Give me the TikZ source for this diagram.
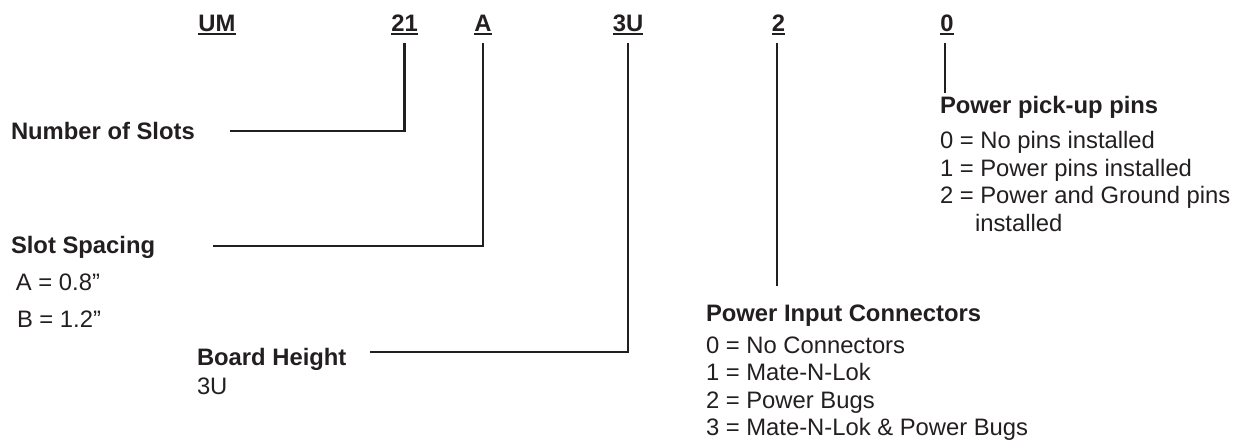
\documentclass[tikz,border=0pt]{standalone}
\usepackage{fontspec}
\setmainfont{Liberation Sans}
\definecolor{ink}{HTML}{231F20}
\begin{document}
\begin{tikzpicture}[x=1pt,y=-1pt,
  every node/.style={inner sep=0pt,outer sep=0pt,text=ink,font=\fontsize{23.8}{28}\selectfont},
  code/.style={anchor=base,font=\fontsize{23.8}{28}\selectfont\bfseries},
  txt/.style={anchor=base west},
  hd/.style={anchor=base west,font=\fontsize{23.8}{28}\selectfont\bfseries},
  lead/.style={draw=ink,line width=2.4pt,line join=miter},
  uline/.style={draw=ink,line width=2pt}]
\useasboundingbox (0,0) rectangle (1245,445);
% code letters
\node[code] (nUM) at (217,31) {UM};
\node[code] (n21) at (404.5,31) {21};
\node[code] (nA) at (483,31) {A};
\node[code] (n3U) at (628,31) {3U};
\node[code] (n2) at (778.5,31) {2};
\node[code] (n0) at (947,31) {0};
\foreach \n in {nUM,n21,nA,n3U,n2,n0}
  \draw[uline] ([yshift=-2.6pt]\n.base west) -- ([yshift=-2.6pt]\n.base east);
% left descriptions
\node[hd] (slots) at (11,139) {Number of Slots};
\node[hd] (spacing) at (11,253) {Slot Spacing};
\node[txt] (spA) at (16,290) {A = 0.8”};
\node[txt] (spB) at (17,327) {B = 1.2”};
\node[hd] (board) at (197,365) {Board Height};
\node[txt] (board3U) at (197,394) {3U};
% power input connectors
\node[hd] (pic) at (706,321) {Power Input Connectors};
\node[txt] (pic0) at (706,353) {0 = No Connectors};
\node[txt] (pic1) at (706,380) {1 = Mate-N-Lok};
\node[txt] (pic2) at (706,408) {2 = Power Bugs};
\node[txt] (pic3) at (706,435) {3 = Mate-N-Lok \& Power Bugs};
% power pick-up pins
\node[hd] (ppp) at (940,113) {Power pick-up pins};
\node[txt] (ppp0) at (940,148) {0 = No pins installed};
\node[txt] (ppp1) at (940,176) {1 = Power pins installed};
\node[txt] (ppp2) at (940,203) {2 = Power and Ground pins};
\node[txt] (ppp2b) at (975,231) {installed};
% leaders
\coordinate (end2) at (777,286);
\coordinate (end0) at (945,93);
\draw[lead] ([yshift=-12pt]n21.base) |- ([xshift=35pt,yshift=8pt]slots.base east);
\draw[lead] ([yshift=-12pt]nA.base) |- ([xshift=58pt,yshift=7pt]spacing.base east);
\draw[lead] ([yshift=-12pt]n3U.base) |- ([xshift=24pt,yshift=13pt]board.base east);
\draw[lead] ([yshift=-12pt]n2.base -| end2) -- (end2);
\draw[lead] ([yshift=-12pt]n0.base -| end0) -- (end0);
\end{tikzpicture}
\end{document}
